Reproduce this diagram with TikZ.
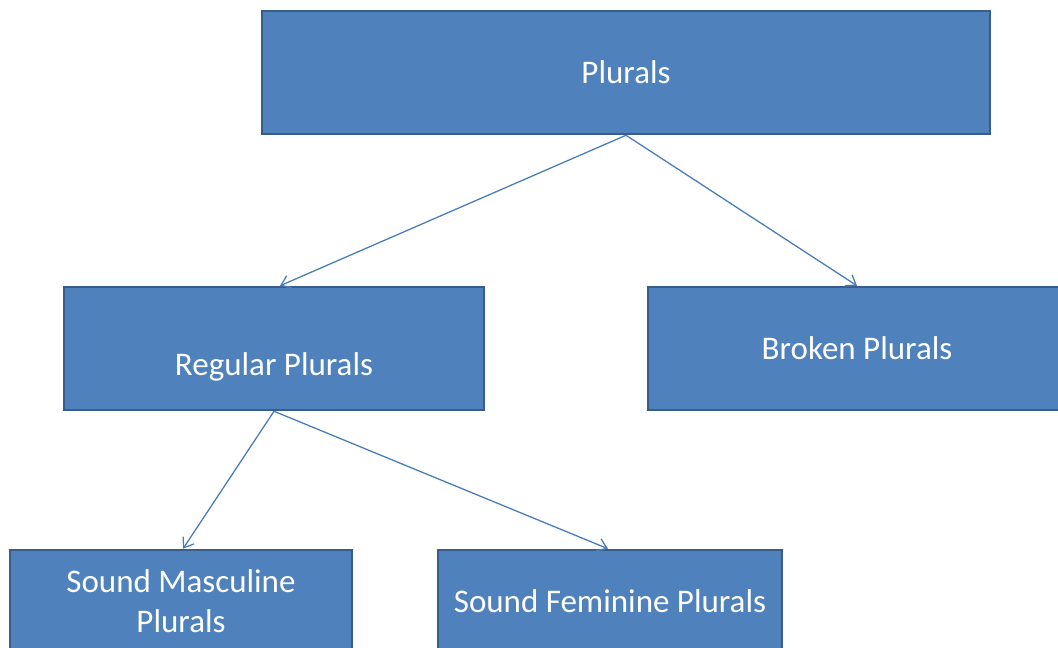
\documentclass[tikz,border=0pt]{standalone}
\usepackage{fontspec}
\setmainfont{Carlito}
\usetikzlibrary{arrows.meta,positioning}
\definecolor{boxfill}{HTML}{4F81BD}
\definecolor{boxline}{HTML}{385D8A}
\definecolor{arrline}{HTML}{4A7EBB}
\tikzset{
  box/.style={rectangle,draw=boxline,fill=boxfill,line width=2.5pt,
              minimum width=#1,minimum height=123pt,
              font=\fontsize{33}{40}\selectfont,align=center,text=white,
              inner sep=2pt},
  sbox/.style={box=#1,minimum height=102pt},
  arr/.style={-{Straight Barb[length=9pt,width=13pt]},line width=1.3pt,color=arrline},
}
\begin{document}
\begin{tikzpicture}[x=1pt,y=-1pt]
  \useasboundingbox (0,0) rectangle (1058,648);
  \fill[white] (0,0) rectangle (1058,648);

  \node[box=728pt] (plu) at (626,72.5) {Plurals};
  \node[box=420pt] (reg) at (274,348.5)
    {\raisebox{-18pt}[\height][\depth]{Regular Plurals}};
  \node[box=418pt] (brk) at (857,348.5) {Broken Plurals};
  \node[sbox=342pt] (msc) at (181,601) {Sound Masculine\\Plurals};
  \node[sbox=344pt] (fem) at (610,601) {Sound Feminine Plurals};

  \draw[arr] (plu.south) -- ([xshift=6pt]reg.north);
  \draw[arr] (plu.south) -- (brk.north);
  \draw[arr] (reg.south) -- ([xshift=2pt]msc.north);
  \draw[arr] (reg.south) -- ([xshift=-2pt]fem.north);
\end{tikzpicture}
\end{document}
